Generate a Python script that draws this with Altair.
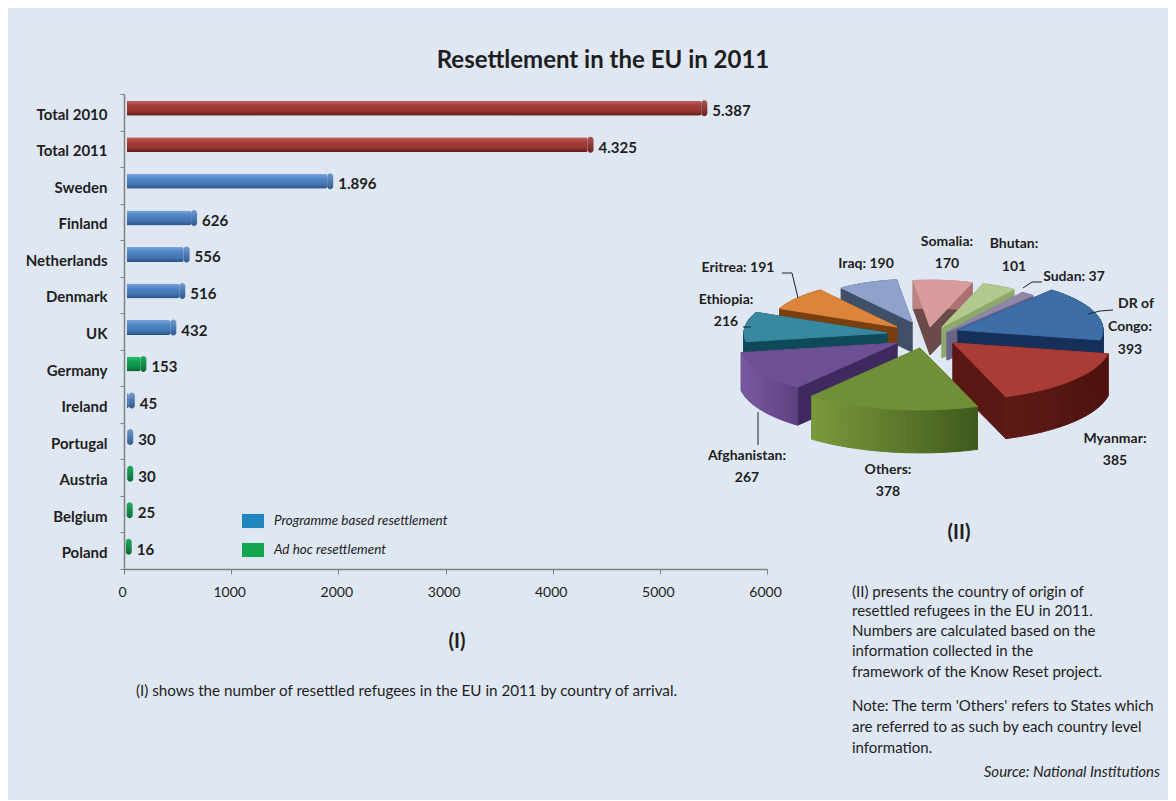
import math
import altair as alt
import pandas as pd

# ---- values
countries = ["Total 2010", "Total 2011", "Sweden", "Finland", "Netherlands", "Denmark", "UK",
             "Germany", "Ireland", "Portugal", "Austria", "Belgium", "Poland"]
arrivals = [5387, 4325, 1896, 626, 556, 516, 432, 153, 45, 30, 30, 25, 16]
kinds = ["Total", "Total", "Programme", "Programme", "Programme", "Programme", "Programme",
         "Ad hoc", "Programme", "Programme", "Ad hoc", "Ad hoc", "Ad hoc"]
legend_labels = ["Programme based resettlement", "Ad hoc resettlement"]
origins = ["DR of Congo", "Myanmar", "Others", "Afghanistan", "Ethiopia", "Eritrea", "Iraq",
           "Somalia", "Bhutan", "Sudan"]
origin_counts = [393, 385, 378, 267, 216, 191, 190, 170, 101, 37]

FONT = "Lato"
INK = "#1e1e1e"
W, H = 1160, 792


def px(x):
    return x - 8


def py(y):
    return y - 8


bars = pd.DataFrame({
    "country": countries,
    "value": arrivals,
    "kind": kinds,
    "label": [f"{v:,}".replace(",", ".") for v in arrivals],
})

x_scale = alt.Scale(domain=[0, 6000], range=[px(124), px(767)], nice=False)
y_scale = alt.Scale(domain=countries, range=[py(94), py(569)], paddingInner=0, paddingOuter=0)
x_axis = alt.Axis(title=None, values=[0, 1000, 2000, 3000, 4000, 5000, 6000], format="d", grid=False,
                  offset=-(H - py(569)), domainColor="#808080", tickColor="#808080", tickSize=5,
                  labelFont=FONT, labelFontSize=14, labelColor=INK, labelPadding=11, domainWidth=1.5,
                  labelFlush=False, labelOverlap=False, labelOffset=-2)
y_axis = alt.Axis(title=None, grid=False, offset=-px(124), domainColor="#808080", tickColor="#808080",
                  tickSize=4, tickBand="extent", labelFont=FONT, labelFontSize=15, labelFontWeight="bold",
                  labelColor=INK, labelPadding=13, labelOffset=2, domainWidth=1.5)
X = alt.X("value:Q", scale=x_scale, axis=x_axis)
Y = alt.Y("country:N", scale=y_scale, sort=countries, axis=y_axis)


def grad(*colors):
    n = len(colors) - 1
    return alt.LinearGradient(gradient="linear", x1=0, x2=0, y1=0, y2=1,
                              stops=[alt.GradientStop(offset=i / n, color=c) for i, c in enumerate(colors)])


styles = {
    "Total": (("#c25f5a", "#a23e3a", "#9a3632", "#5a1c1a"), ("#a85350", "#6e2422")),
    "Programme": (("#7aa6dc", "#4f83c4", "#4678b6", "#2a5288"), ("#6f9bd0", "#2f5a92")),
    "Ad hoc": (("#2cc070", "#13a254", "#109048", "#0b6234"), ("#22ad60", "#0b6a38")),
}

layers = []
for kind, (body, cap) in styles.items():
    base = alt.Chart(bars).transform_filter(alt.datum.kind == kind)
    layers.append(base.mark_bar(size=15, cornerRadius=2, xOffset=3, yOffset=-4, color=grad(*body)).encode(x=X, y=Y))
    layers.append(base.mark_tick(size=16, thickness=6, cornerRadius=3, xOffset=3, yOffset=-4, opacity=1,
                                 color=grad(*cap)).encode(x=X, y=Y))

layers.append(alt.Chart(bars).mark_text(align="left", baseline="middle", dx=11, dy=-1, font=FONT, fontSize=15,
                                        fontWeight="bold", color=INK).encode(x=X, y=Y, text="label:N"))

# ---- legend (a real one, hung on an invisible point layer)
layers.append(alt.Chart(pd.DataFrame({"k": legend_labels})).mark_point(size=0, filled=True, opacity=0).encode(
    x=alt.value(0), y=alt.value(0),
    color=alt.Color("k:N", scale=alt.Scale(domain=legend_labels, range=["#1f86c0", "#12a650"]),
                    legend=alt.Legend(title=None, orient="none", legendX=px(242), legendY=py(510),
                                      symbolType="M-1,-0.64H1V0.64H-1Z", symbolSize=484, symbolOpacity=1,
                                      symbolStrokeWidth=0, labelFont=FONT, labelFontSize=13.5,
                                      labelFontStyle="italic", labelColor=INK, rowPadding=10,
                                      labelOffset=10, labelLimit=320)),
))

# ---- exploded 3D pie: angles come from the counts, placing is style only
pie_total = sum(origin_counts)
START = 40.2
RATIO = 0.36
pie_style = {
    "DR of Congo": ((958, 330), 145, 42, "#3d6ea6", "#16305a", "#16305a", "#16305a"),
    "Myanmar": ((953, 343), 158, 42, "#a93d35", "#5e1a15", "#4e1310", "#5a1713"),
    "Others": ((920, 348), 172, 43, "#6f9036", "#7b9a3c", "#3f5a1d", "#4e6b25"),
    "Afghanistan": ((897, 343), 158, 38, "#6d5094", "#7a5ba2", "#5c4180", "#3f2a60"),
    "Ethiopia": ((887, 333), 143, 30, "#38889f", "#0f4a58", "#0f4a58", "#0f4a58"),
    "Eritrea": ((897, 327), 128, 22, "#dc843a", "#7a3f10", "#7a3f10", "#7a3f10"),
    "Iraq": ((912, 322), 118, 30, "#8ea2cb", "#3f5068", "#3f5068", "#3f5068"),
    "Somalia": ((930, 327), 130, 28, "#d89c9c", "#bd8585", "#a86e6e", "#6b4a4a"),
    "Bhutan": ((942, 327), 127, 31, "#b3c88f", "#8da86c", "#8da86c", "#8da86c"),
    "Sudan": ((947, 332), 133, 28, "#8f86a8", "#6c6488", "#6c6488", "#6c6488"),
}
paint_order = ["Iraq", "Somalia", "Bhutan", "Sudan", "Eritrea", "Ethiopia", "DR of Congo",
               "Afghanistan", "Myanmar", "Others"]


def mix(a, b, t):
    ca = [int(a[i:i + 2], 16) for i in (1, 3, 5)]
    cb = [int(b[i:i + 2], 16) for i in (1, 3, 5)]
    return "#" + "".join(f"{round(p + (q - p) * t):02x}" for p, q in zip(ca, cb))


def feature(points, color):
    ring = [[px(a), py(b)] for a, b in points]
    ring.append(ring[0])
    return {"type": "Feature", "properties": {"fill": color},
            "geometry": {"type": "Polygon", "coordinates": [ring]}}


spans = {}
angle = START
for name, count in zip(origins, origin_counts):
    sweep = 360 * count / pie_total
    spans[name] = (angle, angle + sweep)
    angle += sweep

features = []
for name in paint_order:
    (ax, ay), r, depth, top, wall_a, wall_b, cut = pie_style[name]
    a0, a1 = spans[name]
    n = max(4, int((a1 - a0) / 2))
    rim = []
    for i in range(n + 1):
        t = math.radians(a0 + (a1 - a0) * i / n)
        rim.append((ax + r * math.sin(t), ay - r * RATIO * math.cos(t)))
    xs = [p[0] for p in rim]
    lo, hi = min(xs), max(xs)
    for end in (rim[0], rim[-1]):
        features.append(feature([(ax, ay), end, (end[0], end[1] + depth), (ax, ay + depth)], cut))
    for i in range(n):
        p, q = rim[i], rim[i + 1]
        t = ((p[0] + q[0]) / 2 - lo) / max(hi - lo, 1)
        features.append(feature([p, q, (q[0], q[1] + depth), (p[0], p[1] + depth)], mix(wall_a, wall_b, t)))
    features.append(feature([(ax, ay)] + rim, top))

pie_data = alt.InlineData(values={"type": "FeatureCollection", "features": features},
                          format=alt.DataFormat(property="features", type="json"))
layers.append(alt.Chart(pie_data).mark_geoshape(strokeWidth=1).encode(
    color=alt.Color("properties.fill:N", scale=None),
    stroke=alt.Stroke("properties.fill:N", scale=None),
).project(type="identity", scale=1, translate=[0, 0], reflectY=False))


# ---- texts and leader lines
def note(text, x, y, size=14, weight="normal", style="normal", align="center"):
    return alt.Chart(alt.Data(values=[{}])).mark_text(
        text=text, font=FONT, fontSize=size, fontWeight=weight, fontStyle=style, align=align,
        baseline="middle", color=INK).encode(x=alt.value(px(x)), y=alt.value(py(y)))


def leader(x1, y1, x2, y2):
    return alt.Chart(alt.Data(values=[{}])).mark_rule(color="#222222", strokeWidth=1).encode(
        x=alt.value(px(x1)), x2=alt.value(px(x2)), y=alt.value(py(y1)), y2=alt.value(py(y2)))


c = dict(zip(origins, origin_counts))
layers += [
    note("Resettlement in the EU in 2011", 603, 61, size=24, weight="bold"),
    note("(I)", 457, 642, size=20, weight="bold"),
    note("(II)", 959, 533, size=20, weight="bold"),
    note("(I) shows the number of resettled refugees in the EU in 2011 by country of arrival.", 136, 691,
         size=15.2, align="left"),
]
for text, y in [("(II) presents the country of origin of", 592),
                ("resettled refugees in the EU in 2011.", 611),
                ("Numbers are calculated based on the", 631),
                ("information collected in the", 651),
                ("framework of the Know Reset project.", 672),
                ("Note: The term 'Others' refers to States which", 706),
                ("are referred to as such by each country level", 727),
                ("information.", 748)]:
    layers.append(note(text, 852, y, size=15, align="left"))
layers.append(note("Source: National Institutions", 1160, 772, size=15, style="italic", align="right"))

pie_labels = [
    (f"Eritrea: {c['Eritrea']}", 738, 268), (f"Iraq: {c['Iraq']}", 866, 264),
    ("Somalia:", 947, 242), (str(c["Somalia"]), 947, 264),
    ("Bhutan:", 1014, 244), (str(c["Bhutan"]), 1014, 267),
    (f"Sudan: {c['Sudan']}", 1074, 277),
    ("DR of", 1136, 304), ("Congo:", 1130, 327), (str(c["DR of Congo"]), 1130, 350),
    ("Ethiopia:", 726, 300), (str(c["Ethiopia"]), 726, 322),
    ("Afghanistan:", 747, 456), (str(c["Afghanistan"]), 747, 478),
    ("Others:", 888, 470), (str(c["Others"]), 888, 492),
    ("Myanmar:", 1115, 439), (str(c["Myanmar"]), 1115, 461),
]
for text, x, y in pie_labels:
    layers.append(note(text, x, y, size=14, weight="bold"))

for seg in [(782, 273, 792, 273), (792, 273, 798, 298), (743, 327, 751, 327),
            (1042, 282, 1032, 282), (1032, 282, 1023, 288), (1113, 310, 1100, 311),
            (1100, 311, 1088, 314), (758, 412, 758, 445)]:
    layers.append(leader(*seg))

chart = alt.layer(*layers).resolve_scale(color="independent", stroke="independent").properties(
    width=W, height=H, padding=0, background="#dfe7f2",
    autosize=alt.AutoSizeParams(type="none"),
).configure_view(strokeWidth=0)

chart.save("out.html", embed_options={"renderer": "svg", "actions": False})
